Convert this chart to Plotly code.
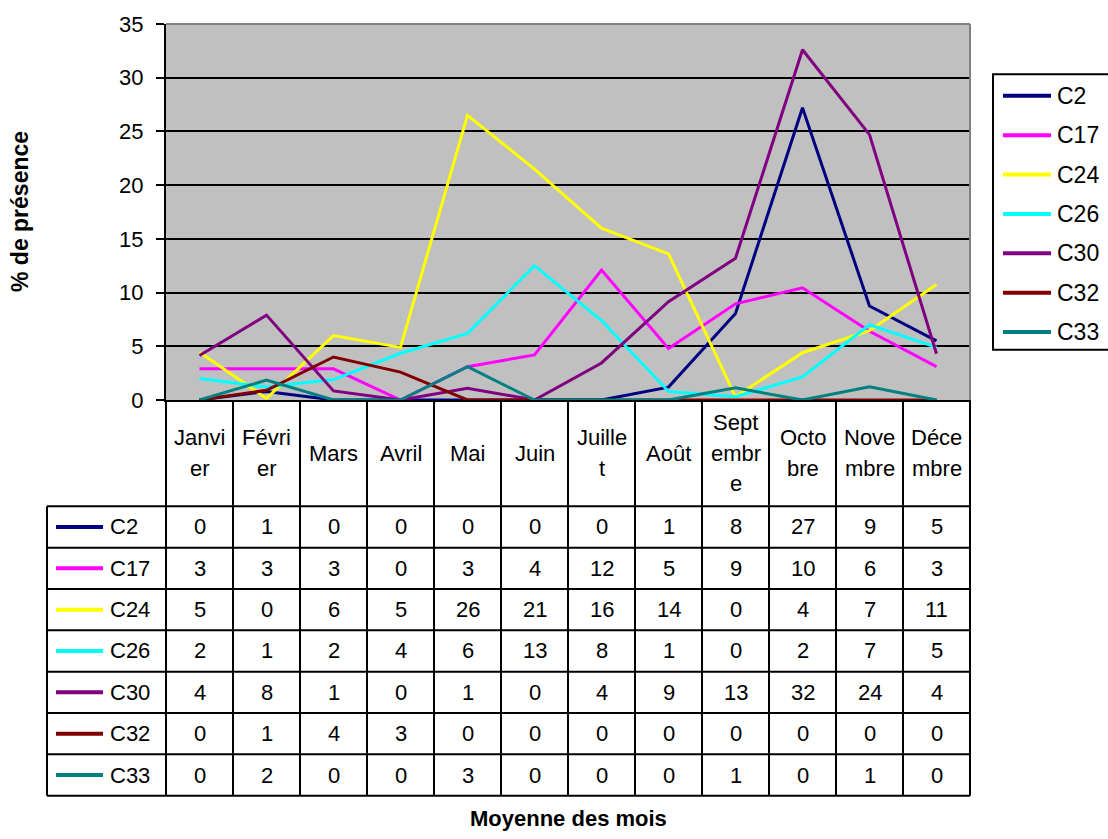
import plotly.graph_objects as go

# ---------------- data ----------------
months = ["Janvier", "Février", "Mars", "Avril", "Mai", "Juin", "Juillet",
          "Août", "Septembre", "Octobre", "Novembre", "Décembre"]
month_labels = [["Janvi", "er"], ["Févri", "er"], ["Mars"], ["Avril"], ["Mai"],
                ["Juin"], ["Juille", "t"], ["Août"], ["Sept", "embr", "e"],
                ["Octo", "bre"], ["Nove", "mbre"], ["Déce", "mbre"]]

series_names = ["C2", "C17", "C24", "C26", "C30", "C32", "C33"]

# plotted values
c2 = [0, 0.8, 0, 0, 0, 0, 0, 1.2, 8.05, 27.2, 8.75, 5.5]
c17 = [2.9, 2.9, 2.9, 0, 3.1, 4.2, 12.1, 4.8, 8.95, 10.45, 6.4, 3.1]
c24 = [4.45, 0.15, 6.0, 4.9, 26.5, 21.5, 16.0, 13.6, 0.3, 4.4, 6.45, 10.75]
c26 = [2.0, 1.2, 1.9, 4.35, 6.2, 12.5, 7.4, 0.8, 0.3, 2.15, 7.0, 4.9]
c30 = [4.15, 7.9, 0.85, 0, 1.1, 0, 3.45, 9.15, 13.2, 32.6, 24.7, 4.3]
c32 = [0, 0.9, 4.0, 2.6, 0, 0, 0, 0, 0, 0, 0, 0]
c33 = [0, 1.85, 0, 0, 3.1, 0, 0, 0, 1.13, 0, 1.23, 0]

# values shown in the data table
t_c2 = [0, 1, 0, 0, 0, 0, 0, 1, 8, 27, 9, 5]
t_c17 = [3, 3, 3, 0, 3, 4, 12, 5, 9, 10, 6, 3]
t_c24 = [5, 0, 6, 5, 26, 21, 16, 14, 0, 4, 7, 11]
t_c26 = [2, 1, 2, 4, 6, 13, 8, 1, 0, 2, 7, 5]
t_c30 = [4, 8, 1, 0, 1, 0, 4, 9, 13, 32, 24, 4]
t_c32 = [0, 1, 4, 3, 0, 0, 0, 0, 0, 0, 0, 0]
t_c33 = [0, 2, 0, 0, 3, 0, 0, 0, 1, 0, 1, 0]

y_ticks = [0, 5, 10, 15, 20, 25, 30, 35]

line_values = [c2, c17, c24, c26, c30, c32, c33]
table_values = [t_c2, t_c17, t_c24, t_c26, t_c30, t_c32, t_c33]
colors = ["#000080", "#FF00FF", "#FFFF00", "#00FFFF", "#800080", "#800000", "#008080"]

# ---------------- geometry ----------------
W, H = 1108, 839
L, R, T, B = 166, 970, 18, 400
FONT = "Liberation Sans, Arial, sans-serif"


def px_x(px):
    return (px - L) / (R - L)


def px_y(py):
    return (B - py) / (B - T)


fig = go.Figure()
for name, vals, col in zip(series_names, line_values, colors):
    fig.add_trace(go.Scatter(x=list(range(len(months))), y=vals, name=name,
                             mode="lines", line=dict(color=col, width=3),
                             showlegend=False))

shapes = []
annotations = []
blk = dict(color="black", width=2)

# plot area top / right border (gray)
shapes.append(dict(type="line", xref="paper", yref="paper", x0=0, x1=1, y0=1, y1=1,
                   line=dict(color="#808080", width=2), layer="above"))
shapes.append(dict(type="line", xref="paper", yref="paper", x0=1, x1=1, y0=0, y1=1,
                   line=dict(color="#808080", width=2), layer="above"))

# ---------------- data table ----------------
n = len(months)
col_w = (R - L) / n
header_bottom = 508
row_h = 42
tab_left = 47
tab_bottom = header_bottom + row_h * len(series_names)

for k in range(n + 1):
    xb = L + k * col_w
    shapes.append(dict(type="line", xref="paper", yref="paper", x0=px_x(xb), x1=px_x(xb),
                       y0=px_y(B), y1=px_y(tab_bottom), line=blk))
shapes.append(dict(type="line", xref="paper", yref="paper", x0=px_x(tab_left), x1=px_x(tab_left),
                   y0=px_y(header_bottom), y1=px_y(tab_bottom), line=blk))
for r in range(len(series_names) + 1):
    yb = header_bottom + r * row_h
    shapes.append(dict(type="line", xref="paper", yref="paper", x0=px_x(tab_left), x1=px_x(R),
                       y0=px_y(yb), y1=px_y(yb), line=blk))

TF = dict(family=FONT, size=22, color="black")
header_mid = (B + header_bottom) / 2
line_gap = 31
for i, lines in enumerate(month_labels):
    cx = L + (i + 0.5) * col_w
    m = len(lines)
    for j, txt in enumerate(lines):
        cy = header_mid + (j - (m - 1) / 2) * line_gap
        annotations.append(dict(xref="paper", yref="paper", x=px_x(cx), y=px_y(cy),
                                text=txt, showarrow=False, font=TF,
                                xanchor="center", yanchor="middle"))

for r, (name, vals, col) in enumerate(zip(series_names, table_values, colors)):
    cy = header_bottom + (r + 0.5) * row_h
    shapes.append(dict(type="line", xref="paper", yref="paper", x0=px_x(56), x1=px_x(103),
                       y0=px_y(cy), y1=px_y(cy), line=dict(color=col, width=4)))
    annotations.append(dict(xref="paper", yref="paper", x=px_x(108), y=px_y(cy),
                            text=name, showarrow=False, font=TF,
                            xanchor="left", yanchor="middle"))
    for i, v in enumerate(vals):
        cx = L + (i + 0.5) * col_w
        annotations.append(dict(xref="paper", yref="paper", x=px_x(cx), y=px_y(cy),
                                text=str(v), showarrow=False, font=TF,
                                xanchor="center", yanchor="middle"))

# ---------------- legend (right) ----------------
leg_left, leg_top, leg_bottom = 993, 69, 349
shapes.append(dict(type="rect", xref="paper", yref="paper", x0=px_x(leg_left), x1=px_x(W + 20),
                   y0=px_y(leg_bottom), y1=px_y(leg_top), line=blk, fillcolor="white"))
leg_step = 40
for r, (name, col) in enumerate(zip(series_names, colors)):
    cy = 91 + r * leg_step
    shapes.append(dict(type="line", xref="paper", yref="paper", x0=px_x(1003), x1=px_x(1051),
                       y0=px_y(cy), y1=px_y(cy), line=dict(color=col, width=4)))
    annotations.append(dict(xref="paper", yref="paper", x=px_x(1055), y=px_y(cy),
                            text=name, showarrow=False,
                            font=dict(family=FONT, size=23, color="black"),
                            xanchor="left", yanchor="middle"))

# ---------------- axis titles ----------------
annotations.append(dict(xref="paper", yref="paper", x=px_x(20), y=px_y((T + B) / 2),
                        text="<b>% de présence</b>", textangle=-90, showarrow=False,
                        font=dict(family=FONT, size=23, color="black"),
                        xanchor="center", yanchor="middle"))
annotations.append(dict(xref="paper", yref="paper", x=0.5, y=px_y(825),
                        text="<b>Moyenne des mois</b>", showarrow=False,
                        font=dict(family=FONT, size=22, color="black"),
                        xanchor="center", yanchor="middle"))

fig.update_layout(
    width=W, height=H,
    margin=dict(l=L, r=W - R, t=T, b=H - B, pad=0),
    paper_bgcolor="white", plot_bgcolor="#C0C0C0",
    showlegend=False,
    shapes=shapes, annotations=annotations,
    font=dict(family=FONT, color="black"),
    xaxis=dict(range=[-0.5, n - 0.5], showgrid=False, zeroline=False,
               showticklabels=False, ticks="", showline=True, linecolor="black",
               linewidth=2, fixedrange=True),
    yaxis=dict(range=[0, 35], tickvals=y_ticks, showgrid=True, gridcolor="black",
               gridwidth=2, zeroline=False, showline=True, linecolor="black",
               linewidth=2, ticks="outside", ticklen=8, tickwidth=2, tickcolor="black",
               tickfont=dict(family=FONT, size=22, color="black"),
               ticklabelstandoff=8, fixedrange=True),
)

fig.write_html("out.html")
